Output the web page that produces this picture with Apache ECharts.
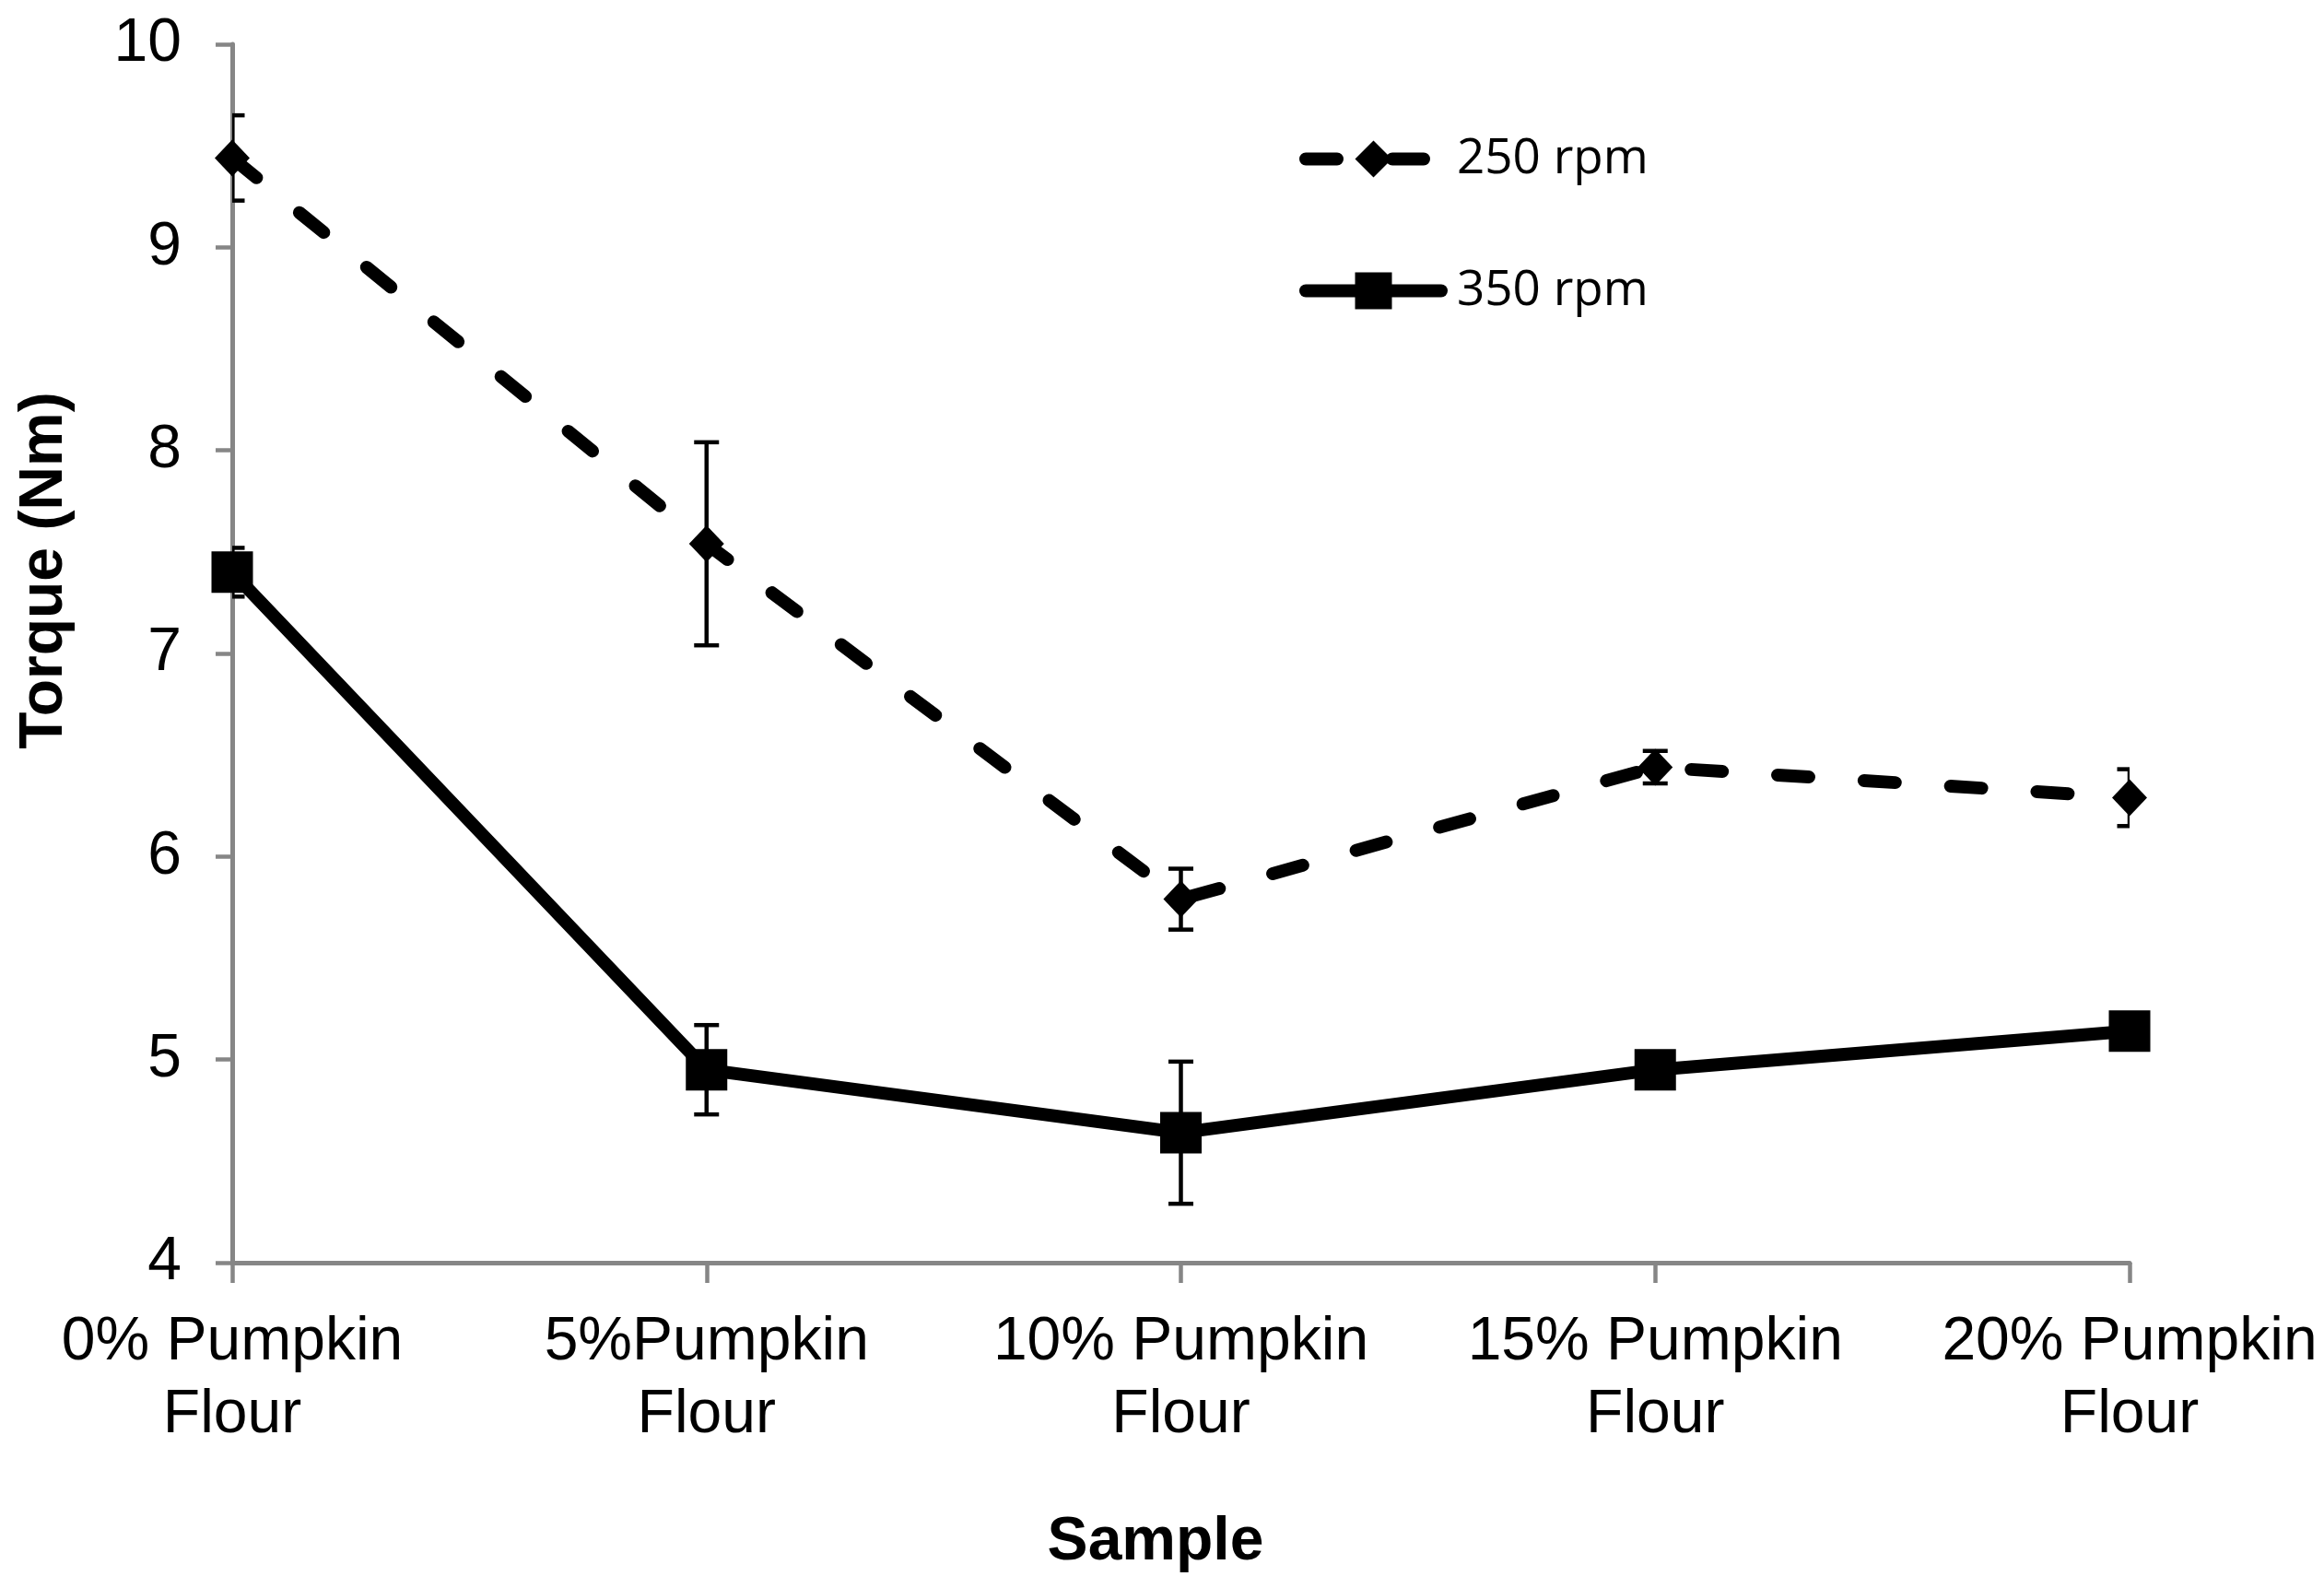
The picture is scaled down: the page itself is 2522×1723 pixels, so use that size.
<!DOCTYPE html>
<html>
<head>
<meta charset="utf-8">
<script src="https://cdn.jsdelivr.net/npm/echarts@6/dist/echarts.min.js"></script>
<style>
html,body{margin:0;padding:0;background:#fff;}
#chart{width:2522px;height:1723px;}
</style>
</head>
<body>
<div id="chart"></div>
<script>
// ---- data ----
const categories = ['0% Pumpkin\nFlour', '5%Pumpkin\nFlour', '10% Pumpkin\nFlour', '15% Pumpkin\nFlour', '20% Pumpkin\nFlour'];
const seriesNames = ['250 rpm', '350 rpm'];
const rpm250 = [9.44, 7.54, 5.79, 6.44, 6.29];
const rpm250Err = [0.21, 0.50, 0.15, 0.08, 0.14];
const rpm350 = [7.40, 4.95, 4.64, 4.95, 5.14];
const rpm350Err = [0.12, 0.22, 0.35, 0.06, 0.06];
const yMin = 4, yMax = 10, yStep = 1;
const xTitle = 'Sample';
const yTitle = 'Torque (Nm)';

const axisGray = '#868686';
const chart = echarts.init(document.getElementById('chart'), null, {renderer: 'canvas'});

function errData(vals, errs) {
  return vals.map((v, i) => [i, v - errs[i], v + errs[i]]);
}
function errRender(params, api) {
  const lo = api.coord([api.value(0), api.value(1)]);
  const hi = api.coord([api.value(0), api.value(2)]);
  const hw = 13.5;
  const st = {stroke: '#000', lineWidth: 4.5};
  return {
    type: 'group',
    children: [
      {type: 'line', shape: {x1: lo[0], y1: lo[1], x2: hi[0], y2: hi[1]}, style: st},
      {type: 'line', shape: {x1: lo[0] - hw, y1: lo[1], x2: lo[0] + hw, y2: lo[1]}, style: st},
      {type: 'line', shape: {x1: hi[0] - hw, y1: hi[1], x2: hi[0] + hw, y2: hi[1]}, style: st}
    ]
  };
}

const option = {
  backgroundColor: '#fff',
  animation: false,
  grid: {left: 252, right: 211, top: 48, bottom: 353, containLabel: false},
  legend: {
    data: seriesNames,
    orient: 'vertical',
    left: 1410,
    top: 146,
    padding: 0,
    itemWidth: 147,
    itemHeight: 50,
    itemGap: 90,
    lineStyle: {width: 14, cap: 'round'},
    textStyle: {fontFamily: '"Open Sans", sans-serif', fontSize: 53, lineHeight: 50, color: '#000', padding: [0, 0, 0, 12]}
  },
  xAxis: {
    type: 'category',
    data: categories,
    boundaryGap: false,
    axisLine: {lineStyle: {color: axisGray, width: 5}},
    axisTick: {show: true, length: 22, lineStyle: {color: axisGray, width: 4.5}},
    axisLabel: {
      color: '#000', fontFamily: '"Liberation Sans", Arial, sans-serif', fontSize: 66,
      lineHeight: 79, margin: 47, interval: 0, align: 'center'
    },
    splitLine: {show: false}
  },
  yAxis: {
    type: 'value',
    min: yMin, max: yMax, interval: yStep,
    axisLine: {show: true, lineStyle: {color: axisGray, width: 5}},
    axisTick: {show: true, length: 18, lineStyle: {color: axisGray, width: 4.5}},
    axisLabel: {color: '#000', fontFamily: '"Liberation Sans", Arial, sans-serif', fontSize: 66, margin: 55},
    splitLine: {show: false}
  },
  graphic: [
    {
      type: 'text', x: 49, y: 619, rotation: Math.PI / 2,
      style: {text: yTitle, fill: '#000', font: 'bold 66px "Liberation Sans", Arial, sans-serif', textAlign: 'center', textVerticalAlign: 'middle'}
    },
    {
      type: 'text', x: 1254, y: 1674,
      style: {text: xTitle, fill: '#000', font: 'bold 66px "Liberation Sans", Arial, sans-serif', textAlign: 'center', textVerticalAlign: 'middle'}
    }
  ],
  series: [
    {
      type: 'custom', name: 'err250', data: errData(rpm250, rpm250Err), renderItem: errRender, clip: true, z: 1, silent: true
    },
    {
      type: 'custom', name: 'err350', data: errData(rpm350, rpm350Err), renderItem: errRender, clip: true, z: 1, silent: true
    },
    {
      name: seriesNames[0], type: 'line', data: rpm250, z: 3,
      symbol: 'diamond', symbolSize: [38, 40], showAllSymbol: true,
      itemStyle: {color: '#000'},
      lineStyle: {color: '#000', width: 14, type: [34, 60], cap: 'round', join: 'round'}
    },
    {
      name: seriesNames[1], type: 'line', data: rpm350, z: 3,
      symbol: 'rect', symbolSize: 45, showAllSymbol: true,
      itemStyle: {color: '#000'},
      lineStyle: {color: '#000', width: 14, type: 'solid', cap: 'butt', join: 'miter'}
    }
  ]
};
chart.setOption(option);
</script>
</body>
</html>
